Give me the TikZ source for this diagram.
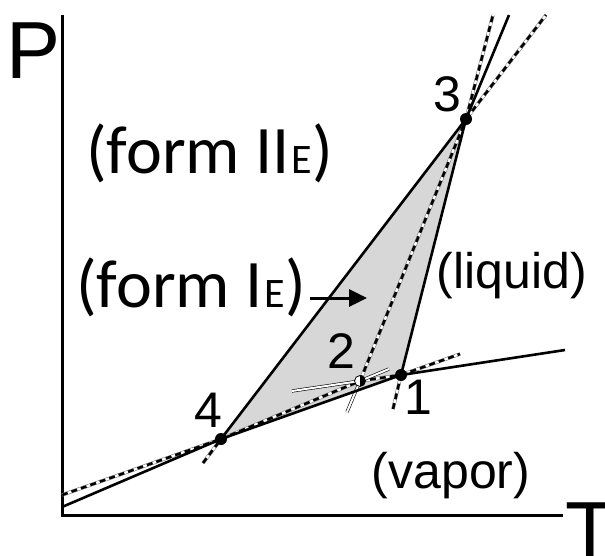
\documentclass[tikz,border=0pt]{standalone}
\usepackage{fontspec}
\setmainfont{Liberation Sans}
\newfontfamily\formfont{Carlito}
\usepackage{tikz}
\usetikzlibrary{arrows.meta, calc}
\usepackage{xcolor}
\definecolor{regiongray}{RGB}{215,215,215}
\newcommand{\subE}{\kern2pt{\fontsize{42}{42}\selectfont E}}

\begin{document}
\begin{tikzpicture}[x=1pt, y=-1pt,
    solidline/.style={line width=2.6pt},
    metaline/.style={line width=2.6pt, dash pattern=on 6pt off 4pt,
      preaction={draw=black!55, solid, line width=0.5pt, double=white, double distance=2.4pt}},
    whiteline/.style={draw=black, line width=0.6pt, double=white, double distance=2pt},
    dot/.style={circle, fill=black, inner sep=0pt, minimum size=12pt},
    lbl/.style={inner sep=0pt, font=\fontsize{50}{60}\selectfont},
    axislbl/.style={inner sep=0pt, font=\fontsize{81}{90}\selectfont},
    formlbl/.style={inner sep=0pt, anchor=base west, font=\formfont\fontsize{68}{80}\selectfont}]
    \useasboundingbox (0,0) rectangle (605,555);

    % triple points
    \coordinate (p1) at (401,375);
    \coordinate (p2) at (360,381);
    \coordinate (p3) at (466,119);
    \coordinate (p4) at (221,439);

    % free ends of the curves
    \coordinate (iv0) at (62,495);   \coordinate (iv1) at (460,354);   % I-vapor
    \coordinate (iiv0) at (62,507);  \coordinate (iiv1) at (389,369);  % II-vapor
    \coordinate (lv0) at (292,391);  \coordinate (lv1) at (565,350);   % liquid-vapor
    \coordinate (iii0) at (203,463); \coordinate (iii1) at (546,15);   % II-I
    \coordinate (il0) at (393,409);  \coordinate (il1) at (493,15);    % I-liquid
    \coordinate (iil0) at (347,412); \coordinate (iil1) at (509,15);   % II-liquid

    % axes
    \coordinate (ptop) at (62,15);
    \coordinate (origin) at (62,515);
    \coordinate (tend) at (563,515);
    \draw[line width=3pt] (ptop) -- (origin) -- (tend);

    % region of form I
    \fill[regiongray] (p4) -- (p3) -- (p1) -- cycle;

    % metastable extensions
    \draw[metaline] (iv0) -- (p4);
    \draw[metaline] (p1) -- (iv1);
    \draw[metaline] (p4) -- (p2);
    \draw[metaline] (p2) -- (p1);
    \draw[metaline] (iii0) -- (p4);
    \draw[metaline] (p3) -- (iii1);
    \draw[metaline] (il0) -- (p1);
    \draw[metaline] (p3) -- (il1);
    \draw[metaline] (p2) -- (p3);

    % beyond point 2
    \draw[whiteline] (p2) -- (iiv1);
    \draw[whiteline] (p2) -- (lv0);
    \draw[whiteline] (p2) -- (iil0);

    % stable curves
    \draw[solidline] (iiv0) -- (p4);
    \draw[solidline] (p4) -- (p1);
    \draw[solidline] (p1) -- (lv1);
    \draw[solidline] (p4) -- (p3);
    \draw[solidline] (p1) -- (p3);
    \draw[solidline] (p3) -- (iil1);

    % points
    \node[dot] (d1) at (p1) {};
    \node[dot] (d3) at (p3) {};
    \node[dot] (d4) at (p4) {};
    \filldraw[fill=white, line width=0.8pt] (p2) circle (5.5pt);
    \fill (p2) ++(0pt,-5.5pt) arc[start angle=-90, end angle=90, radius=5.5pt] -- cycle;

    % labels
    \node[lbl] (lbl1) at (418,397) {1};
    \node[lbl] (lbl2) at (341,351) {2};
    \node[lbl] (lbl3) at (447,94) {3};
    \node[lbl] (lbl4) at (208,410) {4};
    \node[lbl] (vapor) at (451,476) {(vapor)};
    \node[lbl] (liquid) at (512,276) {(liquid)};
    \node[formlbl] (formII) at (86,173) {(form II\subE)};
    \node[formlbl] (formI) at (76,307) {(form I\subE)};
    \coordinate (arrowtip) at (367,298);
    \draw[line width=3pt, -{Triangle[length=18pt, width=17pt]}] ([xshift=4pt]formI.east |- arrowtip) -- (arrowtip);
    \node[axislbl] (Plbl) at (34,51) {P};
    \node[axislbl] (Tlbl) at (590,531) {T};
\end{tikzpicture}
\end{document}
